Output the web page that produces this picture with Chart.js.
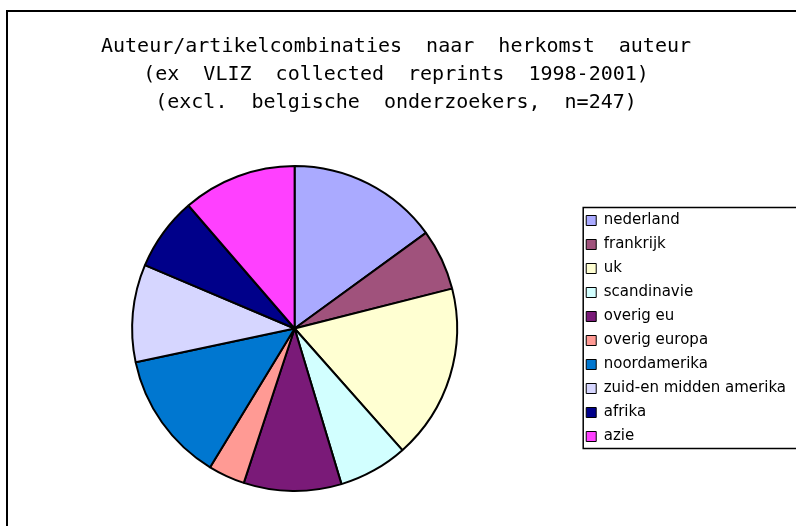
<!DOCTYPE html>
<html>
<head>
<meta charset="utf-8">
<script src="https://cdn.jsdelivr.net/npm/chart.js@4/dist/chart.umd.min.js"></script>
<style>
  html, body { margin: 0; padding: 0; background: #fff; }
  #wrap { width: 796px; height: 526px; position: relative; }
</style>
</head>
<body>
<div id="wrap"><canvas id="pie" width="796" height="526"></canvas></div>
<script>
// regions of origin, counts (n=247)
const regions = ['nederland', 'frankrijk', 'uk', 'scandinavie', 'overig eu', 'overig europa',
                 'noordamerika', 'zuid-en midden amerika', 'afrika', 'azie'];
const counts = [37, 15, 43, 17, 24, 9, 32, 24, 18, 28];
const sliceColors = ['#AAAAFF', '#A0527C', '#FFFFD2', '#D2FFFF', '#7A1A78', '#FF9A94',
                     '#0077D0', '#D6D6FF', '#00008A', '#FF40FF'];
const titleLines = [
    'Auteur/artikelcombinaties  naar  herkomst  auteur',
    '(ex  VLIZ  collected  reprints  1998-2001)',
    '(excl.  belgische  onderzoekers,  n=247)'
];

// outer frame + box around the legend
const framePlugin = {
    id: 'frame',
    afterLayout(chart) {
        // title sits centred on the whole canvas, not on the padded area
        const t = chart.titleBlock;
        const shift = (t.left + t.right) / 2 - 396;
        t.left -= shift;
        t.right -= shift;
    },
    beforeDraw(chart) {
        const ctx = chart.ctx;
        ctx.save();
        ctx.strokeStyle = '#000';
        ctx.lineWidth = 2;
        ctx.strokeRect(7, 11, chart.width + 20, chart.height + 20);
        ctx.restore();
    },
    afterDraw(chart) {
        const boxes = chart.legend.legendHitBoxes;
        if (!boxes || !boxes.length) return;
        const first = boxes[0], last = boxes[boxes.length - 1];
        const ctx = chart.ctx;
        ctx.save();
        ctx.strokeStyle = '#000';
        ctx.lineWidth = 1.5;
        const top = first.top - 5.5;
        const bottom = last.top + last.height + 4.5;
        ctx.strokeRect(first.left - 3, top, chart.width, bottom - top);
        ctx.restore();
    }
};

const chart = new Chart(document.getElementById('pie'), {
    type: 'pie',
    data: {
        labels: regions,
        datasets: [{
            data: counts,
            backgroundColor: sliceColors,
            borderColor: '#000',
            borderWidth: 2
        }]
    },
    options: {
        responsive: false,
        animation: false,
        layout: { padding: { left: 12, right: 0, top: 0, bottom: 34 } },
        plugins: {
            title: {
                display: true,
                text: titleLines,
                color: '#000',
                font: { family: 'DejaVu Sans Mono', size: 20, weight: 'normal', lineHeight: 1.4 },
                padding: { top: 33, bottom: 48 }
            },
            legend: {
                position: 'right',
                fullSize: false,
                labels: {
                    color: '#000',
                    font: { family: 'DejaVu Sans', size: 15 },
                    boxWidth: 10,
                    boxHeight: 10,
                    padding: 9,
                    generateLabels(c) {
                        const items = Chart.overrides.pie.plugins.legend.labels.generateLabels(c);
                        items.forEach(it => { it.lineWidth = 1; it.strokeStyle = '#000'; });
                        return items;
                    }
                }
            },
            tooltip: { enabled: false }
        }
    },
    plugins: [framePlugin]
});
</script>
</body>
</html>
